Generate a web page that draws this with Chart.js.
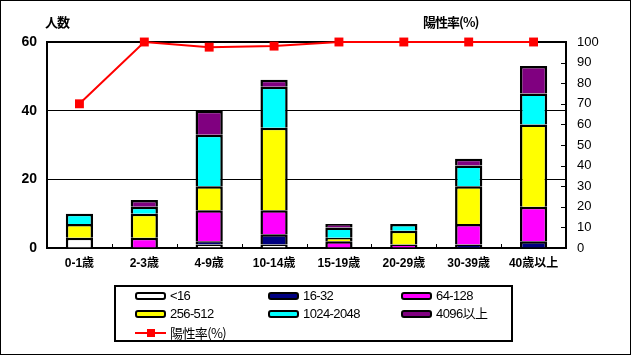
<!DOCTYPE html>
<html>
<head>
<meta charset="utf-8">
<script src="https://cdn.jsdelivr.net/npm/chart.js@4/dist/chart.umd.min.js"></script>
<style>
  html, body { margin: 0; padding: 0; background: #fff; }
  #wrap { position: relative; width: 631px; height: 355px; overflow: hidden; background: #fff; }
  #c { position: absolute; left: 0; top: 0; }
  #frame { position: absolute; left: 0; top: 0; width: 631px; height: 355px; box-sizing: border-box; border: 1px solid #000; pointer-events: none; }
  .ttl { position: absolute; font-family: "Noto Sans CJK JP", "Liberation Sans", sans-serif; font-weight: bold; font-size: 13px; color: #000; letter-spacing: -1px; line-height: 16px; white-space: nowrap; }
  #legend { position: absolute; left: 114px; top: 285px; width: 399px; height: 57px; box-sizing: border-box; border: 2px solid #000; }
  .sym { position: absolute; width: 31px; height: 8px; box-sizing: border-box; border: 2px solid #000; border-radius: 3px; }
  .lbl { position: absolute; font-family: "Liberation Sans", "Noto Sans CJK JP", sans-serif; font-size: 13px; letter-spacing: -0.6px; color: #000; line-height: 16px; white-space: nowrap; }
  .lline { position: absolute; width: 31px; height: 2px; background: #ff0000; }
  .lsq { position: absolute; width: 8px; height: 8px; background: #ff0000; }
</style>
</head>
<body>
<div id="wrap">
  <canvas id="c" width="631" height="355"></canvas>
  <div class="ttl" style="left:45px; top:14px;">人数</div>
  <div class="ttl" style="left:423px; top:14px;">陽性率(%)</div>
  <div id="legend"></div>
  <div id="frame"></div>
</div>
<script>
// ---- data ----
const categories = ['0-1歳', '2-3歳', '4-9歳', '10-14歳', '15-19歳', '20-29歳', '30-39歳', '40歳以上'];
const seriesNames = ['<16', '16-32', '64-128', '256-512', '1024-2048', '4096以上'];
const lt16      = [3, 0, 1, 1, 0, 0, 0, 0];
const r16_32    = [0, 0, 1, 3, 0, 0, 1, 2];
const r64_128   = [0, 3, 9, 7, 2, 1, 6, 10];
const r256_512  = [4, 7, 7, 24, 1, 4, 11, 24];
const r1024_2048 = [3, 2, 15, 12, 3, 2, 6, 9];
const r4096     = [0, 2, 7, 2, 1, 0, 2, 8];
const rateName = '陽性率(%)';
const positiveRate = [70, 100, 97.5, 98, 100, 100, 100, 100];
const leftTicks = [0, 20, 40, 60];
const rightTicks = [0, 10, 20, 30, 40, 50, 60, 70, 80, 90, 100];

// ---- styles ----
const seriesValues = [lt16, r16_32, r64_128, r256_512, r1024_2048, r4096];
const fills = ['#ffffff', '#000080', '#ff00ff', '#ffff00', '#00ffff', '#800080'];
const fontFam = '"Liberation Sans", "Noto Sans CJK JP", sans-serif';

const barSets = seriesValues.map((vals, i) => ({
  type: 'bar',
  label: seriesNames[i],
  data: vals.map(v => v === 0 ? null : v),
  backgroundColor: fills[i],
  borderColor: '#000000',
  borderWidth: 2.5,
  yAxisID: 'y',
  stack: 's',
  order: 2,
  categoryPercentage: 1.0,
  barPercentage: 0.42
}));

const lineSet = {
  type: 'line',
  label: rateName,
  data: positiveRate,
  borderColor: '#ff0000',
  backgroundColor: '#ff0000',
  borderWidth: 2,
  pointStyle: 'rect',
  pointRadius: 6.3,
  pointBorderWidth: 0,
  pointBackgroundColor: '#ff0000',
  yAxisID: 'y1',
  tension: 0,
  clip: false,
  order: 0
};

const innerTicks = {
  id: 'innerTicks',
  afterDraw(chart) {
    const ctx = chart.ctx;
    const a = chart.chartArea;
    const y1 = chart.scales.y1;
    const x = chart.scales.x;
    ctx.save();
    ctx.strokeStyle = '#000';
    ctx.lineWidth = 1;
    ctx.beginPath();
    rightTicks.forEach(v => {
      const py = Math.round(y1.getPixelForValue(v)) + 0.5;
      ctx.moveTo(a.right - 5, py);
      ctx.lineTo(a.right, py);
    });
    for (let i = 1; i < categories.length; i++) {
      const px = Math.round((x.getPixelForValue(i - 1) + x.getPixelForValue(i)) / 2) + 0.5;
      ctx.moveTo(px, a.bottom);
      ctx.lineTo(px, a.bottom - 4);
    }
    ctx.stroke();
    ctx.restore();
  }
};

const chart = new Chart(document.getElementById('c'), {
  data: { labels: categories, datasets: [lineSet, ...barSets] },
  options: {
    responsive: false,
    animation: false,
    devicePixelRatio: 1,
    layout: { padding: { left: 0, right: 0, top: 42, bottom: 77 } },
    plugins: { legend: { display: false }, tooltip: { enabled: false }, title: { display: false } },
    scales: {
      x: {
        type: 'category',
        stacked: true,
        grid: { display: false, drawTicks: false },
        border: { display: true, color: '#000', width: 2 },
        ticks: { color: '#000', padding: 8, font: { family: fontFam, size: 12, weight: 'bold' }, maxRotation: 0, autoSkip: false },
        afterFit(s) { s.height = 30; }
      },
      y: {
        type: 'linear',
        position: 'left',
        stacked: true,
        min: 0, max: 60,
        afterBuildTicks(s) { s.ticks = leftTicks.map(v => ({ value: v })); },
        grid: {
          color: '#000',
          lineWidth: c => (c.tick && c.tick.value === 60) ? 2 : 1,
          drawTicks: false
        },
        border: { display: true, color: '#000', width: 2 },
        ticks: { color: '#000', padding: 10, font: { family: fontFam, size: 14, weight: 'bold' } },
        afterFit(s) { s.width = 47; }
      },
      y1: {
        type: 'linear',
        position: 'right',
        min: 0, max: 100,
        afterBuildTicks(s) { s.ticks = rightTicks.map(v => ({ value: v })); },
        grid: { drawOnChartArea: false, drawTicks: false },
        border: { display: true, color: '#000', width: 2 },
        ticks: { color: '#000', padding: 11, font: { family: fontFam, size: 13 } },
        afterFit(s) { s.width = 65; }
      }
    }
  },
  plugins: [innerTicks]
});

// ---- HTML legend built from the datasets ----
const legend = document.getElementById('legend');
const colX = [135, 268, 401];
const rowY = [296, 314, 333];
const L = 114, T = 285;
barSets.forEach((ds, i) => {
  const cx = colX[i % 3] - L - 2, cy = rowY[Math.floor(i / 3)] - T - 2;
  const s = document.createElement('div');
  s.className = 'sym';
  s.style.left = cx + 'px'; s.style.top = (cy - 4) + 'px';
  s.style.background = ds.backgroundColor;
  legend.appendChild(s);
  const t = document.createElement('div');
  t.className = 'lbl';
  t.textContent = ds.label;
  t.style.left = (cx + 35) + 'px'; t.style.top = (cy - 8) + 'px';
  legend.appendChild(t);
});
{
  const cx = colX[0] - L - 2, cy = rowY[2] - T - 2;
  const ln = document.createElement('div');
  ln.className = 'lline'; ln.style.left = cx + 'px'; ln.style.top = (cy - 1) + 'px';
  legend.appendChild(ln);
  const sq = document.createElement('div');
  sq.className = 'lsq'; sq.style.left = (cx + 12) + 'px'; sq.style.top = (cy - 4) + 'px';
  legend.appendChild(sq);
  const t = document.createElement('div');
  t.className = 'lbl';
  t.style.fontFamily = '"Noto Sans CJK JP", sans-serif';
  t.textContent = lineSet.label;
  t.style.left = (cx + 35) + 'px'; t.style.top = (cy - 8) + 'px';
  legend.appendChild(t);
}
</script>
</body>
</html>
